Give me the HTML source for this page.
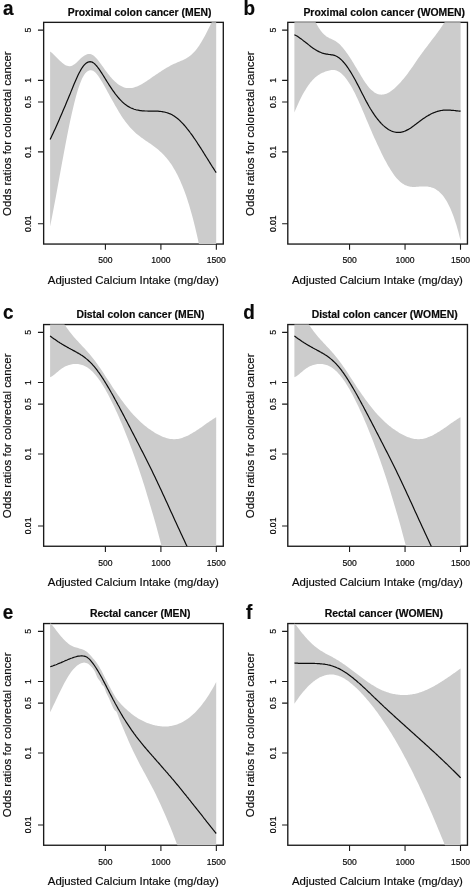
<!DOCTYPE html>
<html><head><meta charset="utf-8"><title>Calcium intake and colorectal cancer</title>
<style>
html,body{margin:0;padding:0;background:#fff;}
body{width:472px;height:890px;overflow:hidden;}
svg{display:block;will-change:transform;}
text{font-family:"Liberation Sans",sans-serif;fill:#0a0a0a;stroke:#0a0a0a;stroke-width:0.18px;}
.tk{font-size:8.6px;}
.lab{font-size:11.4px;}
.ylab{font-size:11.45px;}
.ttl{font-size:10.4px;font-weight:bold;}
.let{font-size:19.5px;font-weight:bold;}
</style></head>
<body>
<svg width="472" height="890" viewBox="0 0 472 890">
<rect x="0" y="0" width="472" height="890" fill="#fff"/>
<clipPath id="ca"><rect x="43.65" y="22.35" width="179.65" height="221.70"/></clipPath>
<rect x="43.65" y="22.35" width="179.65" height="221.70" fill="none" stroke="#1a1a1a" stroke-width="1.35"/>
<path d="M50.1 51.5 L51.1 52.3 L52.1 53.1 L53.1 54.0 L54.1 54.9 L55.1 55.9 L56.1 56.9 L57.1 57.9 L58.1 59.0 L59.1 59.9 L60.1 60.9 L61.1 61.8 L62.1 62.7 L63.1 63.5 L64.1 64.2 L65.1 64.9 L66.1 65.4 L67.1 65.8 L68.1 66.1 L69.1 66.2 L70.1 66.2 L71.1 66.0 L72.1 65.7 L73.1 65.1 L74.1 64.5 L75.1 63.7 L76.1 62.9 L77.1 62.0 L78.1 61.0 L79.1 60.0 L80.1 59.1 L81.1 58.1 L82.1 57.3 L83.1 56.5 L84.1 55.8 L85.1 55.2 L86.1 54.7 L87.1 54.3 L88.1 54.1 L89.1 54.0 L90.1 54.0 L91.1 54.3 L92.1 54.7 L93.1 55.2 L94.1 56.0 L95.1 56.9 L96.1 57.9 L97.1 59.0 L98.1 60.2 L99.1 61.5 L100.1 62.9 L101.1 64.3 L102.1 65.7 L103.1 67.1 L104.1 68.5 L105.1 69.9 L106.1 71.3 L107.1 72.6 L108.1 73.9 L109.1 75.1 L110.1 76.4 L111.1 77.5 L112.1 78.7 L113.1 79.7 L114.1 80.8 L115.1 81.7 L116.1 82.6 L117.1 83.4 L118.1 84.2 L119.1 84.9 L120.1 85.6 L121.1 86.1 L122.1 86.6 L123.1 87.1 L124.1 87.4 L125.1 87.7 L126.1 87.9 L127.1 88.0 L128.1 88.1 L129.1 88.1 L130.1 88.1 L131.1 88.0 L132.1 87.9 L133.1 87.7 L134.1 87.4 L135.1 87.1 L136.1 86.8 L137.1 86.4 L138.1 85.9 L139.1 85.5 L140.1 85.0 L141.1 84.5 L142.1 83.9 L143.1 83.3 L144.1 82.7 L145.1 82.1 L146.1 81.5 L147.1 80.8 L148.1 80.1 L149.1 79.4 L150.1 78.7 L151.1 78.0 L152.1 77.3 L153.1 76.6 L154.1 75.9 L155.1 75.2 L156.1 74.5 L157.1 73.9 L158.1 73.2 L159.1 72.5 L160.1 71.9 L161.1 71.2 L162.1 70.6 L163.1 69.9 L164.1 69.3 L165.1 68.7 L166.1 68.1 L167.1 67.5 L168.1 66.9 L169.1 66.4 L170.1 65.8 L171.1 65.3 L172.1 64.8 L173.1 64.3 L174.1 63.8 L175.1 63.4 L176.1 62.9 L177.1 62.5 L178.1 62.1 L179.1 61.7 L180.1 61.3 L181.1 60.8 L182.1 60.4 L183.1 59.9 L184.1 59.5 L185.1 59.0 L186.1 58.4 L187.1 57.8 L188.1 57.2 L189.1 56.5 L190.1 55.8 L191.1 55.0 L192.1 54.1 L193.1 53.1 L194.1 52.1 L195.1 51.0 L196.1 49.8 L197.1 48.5 L198.1 47.1 L199.1 45.7 L200.1 44.1 L201.1 42.5 L202.1 40.8 L203.1 39.1 L204.1 37.2 L205.1 35.4 L206.1 33.5 L207.1 31.5 L208.1 29.5 L209.1 27.5 L210.1 25.5 L211.1 23.4 L212.1 21.3 L213.1 19.2 L214.1 17.2 L215.1 15.1 L216.2 14.4 L216.2 252.1 L215.1 252.1 L214.1 252.1 L213.1 252.1 L212.1 252.1 L211.1 252.1 L210.1 252.1 L209.1 252.1 L208.1 252.1 L207.1 252.1 L206.1 252.1 L205.1 252.1 L204.1 252.1 L203.1 252.1 L202.1 252.1 L201.1 252.1 L200.1 249.7 L199.1 245.0 L198.1 240.3 L197.1 235.8 L196.1 231.4 L195.1 227.2 L194.1 223.2 L193.1 219.2 L192.1 215.5 L191.1 211.9 L190.1 208.4 L189.1 205.1 L188.1 201.9 L187.1 198.8 L186.1 195.8 L185.1 193.0 L184.1 190.3 L183.1 187.7 L182.1 185.2 L181.1 182.9 L180.1 180.6 L179.1 178.4 L178.1 176.3 L177.1 174.3 L176.1 172.4 L175.1 170.6 L174.1 168.9 L173.1 167.2 L172.1 165.6 L171.1 164.1 L170.1 162.7 L169.1 161.3 L168.1 160.0 L167.1 158.7 L166.1 157.5 L165.1 156.4 L164.1 155.3 L163.1 154.2 L162.1 153.2 L161.1 152.3 L160.1 151.4 L159.1 150.5 L158.1 149.6 L157.1 148.8 L156.1 148.0 L155.1 147.2 L154.1 146.5 L153.1 145.7 L152.1 145.0 L151.1 144.3 L150.1 143.6 L149.1 143.0 L148.1 142.3 L147.1 141.6 L146.1 140.9 L145.1 140.2 L144.1 139.5 L143.1 138.8 L142.1 138.1 L141.1 137.4 L140.1 136.6 L139.1 135.8 L138.1 135.0 L137.1 134.2 L136.1 133.4 L135.1 132.5 L134.1 131.5 L133.1 130.6 L132.1 129.5 L131.1 128.5 L130.1 127.4 L129.1 126.2 L128.1 125.0 L127.1 123.8 L126.1 122.5 L125.1 121.2 L124.1 119.8 L123.1 118.4 L122.1 116.9 L121.1 115.4 L120.1 113.8 L119.1 112.2 L118.1 110.5 L117.1 108.8 L116.1 107.1 L115.1 105.4 L114.1 103.6 L113.1 101.8 L112.1 100.0 L111.1 98.2 L110.1 96.4 L109.1 94.6 L108.1 92.8 L107.1 90.9 L106.1 89.1 L105.1 87.3 L104.1 85.6 L103.1 83.8 L102.1 82.1 L101.1 80.4 L100.1 78.8 L99.1 77.3 L98.1 75.8 L97.1 74.5 L96.1 73.3 L95.1 72.3 L94.1 71.5 L93.1 70.8 L92.1 70.4 L91.1 70.2 L90.1 70.2 L89.1 70.4 L88.1 70.9 L87.1 71.6 L86.1 72.5 L85.1 73.6 L84.1 75.0 L83.1 76.7 L82.1 78.6 L81.1 80.9 L80.1 83.4 L79.1 86.2 L78.1 89.2 L77.1 92.5 L76.1 96.0 L75.1 99.8 L74.1 103.7 L73.1 107.9 L72.1 112.2 L71.1 116.7 L70.1 121.3 L69.1 126.1 L68.1 131.1 L67.1 136.1 L66.1 141.3 L65.1 146.5 L64.1 151.8 L63.1 157.2 L62.1 162.6 L61.1 168.1 L60.1 173.5 L59.1 179.0 L58.1 184.5 L57.1 189.9 L56.1 195.4 L55.1 200.7 L54.1 206.0 L53.1 211.3 L52.1 216.4 L51.1 221.4 L50.1 226.4 Z" fill="#cccccc" clip-path="url(#ca)"/>
<path d="M50.1 139.5 L51.1 137.4 L52.1 135.3 L53.1 133.2 L54.1 131.0 L55.1 128.9 L56.1 126.7 L57.1 124.4 L58.1 122.2 L59.1 119.9 L60.1 117.6 L61.1 115.3 L62.1 113.0 L63.1 110.6 L64.1 108.3 L65.1 105.9 L66.1 103.5 L67.1 101.1 L68.1 98.7 L69.1 96.3 L70.1 93.9 L71.1 91.4 L72.1 89.0 L73.1 86.5 L74.1 84.1 L75.1 81.8 L76.1 79.5 L77.1 77.2 L78.1 75.1 L79.1 73.1 L80.1 71.2 L81.1 69.4 L82.1 67.8 L83.1 66.4 L84.1 65.2 L85.1 64.1 L86.1 63.2 L87.1 62.6 L88.1 62.1 L89.1 61.8 L90.1 61.7 L91.1 61.8 L92.1 62.1 L93.1 62.6 L94.1 63.4 L95.1 64.3 L96.1 65.3 L97.1 66.5 L98.1 67.8 L99.1 69.2 L100.1 70.6 L101.1 72.2 L102.1 73.7 L103.1 75.3 L104.1 76.9 L105.1 78.5 L106.1 80.1 L107.1 81.7 L108.1 83.3 L109.1 84.9 L110.1 86.4 L111.1 87.9 L112.1 89.4 L113.1 90.8 L114.1 92.2 L115.1 93.6 L116.1 94.9 L117.1 96.1 L118.1 97.3 L119.1 98.5 L120.1 99.6 L121.1 100.7 L122.1 101.7 L123.1 102.6 L124.1 103.5 L125.1 104.3 L126.1 105.0 L127.1 105.7 L128.1 106.4 L129.1 106.9 L130.1 107.5 L131.1 108.0 L132.1 108.4 L133.1 108.8 L134.1 109.2 L135.1 109.5 L136.1 109.8 L137.1 110.0 L138.1 110.2 L139.1 110.4 L140.1 110.6 L141.1 110.7 L142.1 110.8 L143.1 110.9 L144.1 110.9 L145.1 111.0 L146.1 111.0 L147.1 111.0 L148.1 111.1 L149.1 111.1 L150.1 111.1 L151.1 111.1 L152.1 111.1 L153.1 111.1 L154.1 111.1 L155.1 111.1 L156.1 111.1 L157.1 111.2 L158.1 111.2 L159.1 111.3 L160.1 111.4 L161.1 111.5 L162.1 111.6 L163.1 111.8 L164.1 112.0 L165.1 112.2 L166.1 112.5 L167.1 112.8 L168.1 113.1 L169.1 113.5 L170.1 113.9 L171.1 114.3 L172.1 114.8 L173.1 115.4 L174.1 116.0 L175.1 116.7 L176.1 117.4 L177.1 118.2 L178.1 119.0 L179.1 119.9 L180.1 120.8 L181.1 121.8 L182.1 122.8 L183.1 123.9 L184.1 125.0 L185.1 126.1 L186.1 127.3 L187.1 128.6 L188.1 129.8 L189.1 131.1 L190.1 132.5 L191.1 133.8 L192.1 135.2 L193.1 136.6 L194.1 138.1 L195.1 139.5 L196.1 141.0 L197.1 142.5 L198.1 144.1 L199.1 145.6 L200.1 147.2 L201.1 148.7 L202.1 150.3 L203.1 151.9 L204.1 153.5 L205.1 155.1 L206.1 156.7 L207.1 158.3 L208.1 159.9 L209.1 161.5 L210.1 163.1 L211.1 164.7 L212.1 166.3 L213.1 167.8 L214.1 169.4 L215.1 171.0 L216.2 172.6" fill="none" stroke="#0c0c0c" stroke-width="1.2" stroke-linejoin="round" clip-path="url(#ca)"/>
<path d="M105.40 244.05 v5.7 M160.90 244.05 v5.7 M216.35 244.05 v5.7 M43.65 30.15 h-5.7 M43.65 80.35 h-5.7 M43.65 101.95 h-5.7 M43.65 151.85 h-5.7 M43.65 223.75 h-5.7" fill="none" stroke="#1a1a1a" stroke-width="1.1"/>
<text class="tk" x="105.40" y="263.35" text-anchor="middle">500</text>
<text class="tk" x="160.90" y="263.35" text-anchor="middle">1000</text>
<text class="tk" x="216.35" y="263.35" text-anchor="middle">1500</text>
<text class="tk" transform="translate(31.45 30.15) rotate(-90)" text-anchor="middle">5</text>
<text class="tk" transform="translate(31.45 80.35) rotate(-90)" text-anchor="middle">1</text>
<text class="tk" transform="translate(31.45 101.95) rotate(-90)" text-anchor="middle">0.5</text>
<text class="tk" transform="translate(31.45 151.85) rotate(-90)" text-anchor="middle">0.1</text>
<text class="tk" transform="translate(31.45 223.75) rotate(-90)" text-anchor="middle">0.01</text>
<text class="lab" x="133.28" y="284.00" text-anchor="middle">Adjusted Calcium Intake (mg/day)</text>
<text class="lab ylab" transform="translate(10.90 133.65) rotate(-90)" text-anchor="middle">Odds ratios for colorectal cancer</text>
<text class="ttl" x="139.65" y="16.15" text-anchor="middle">Proximal colon cancer (MEN)</text>
<text class="let" transform="translate(2.90 15.20) scale(0.97 1.02)">a</text>
<clipPath id="cb"><rect x="287.80" y="22.35" width="179.65" height="221.70"/></clipPath>
<rect x="287.80" y="22.35" width="179.65" height="221.70" fill="none" stroke="#1a1a1a" stroke-width="1.35"/>
<path d="M294.4 14.4 L295.4 14.4 L296.4 14.4 L297.4 14.4 L298.4 14.4 L299.4 14.4 L300.4 14.4 L301.4 14.4 L302.4 14.4 L303.4 14.4 L304.4 14.4 L305.4 14.4 L306.4 14.4 L307.4 14.4 L308.4 14.4 L309.4 14.4 L310.4 14.4 L311.4 14.4 L312.4 14.9 L313.4 17.3 L314.4 19.5 L315.4 21.7 L316.4 23.7 L317.4 25.5 L318.4 27.2 L319.4 28.8 L320.4 30.2 L321.4 31.5 L322.4 32.7 L323.4 33.8 L324.4 34.8 L325.4 35.6 L326.4 36.4 L327.4 37.0 L328.4 37.6 L329.4 38.2 L330.4 38.6 L331.4 39.1 L332.4 39.5 L333.4 40.0 L334.4 40.5 L335.4 41.1 L336.4 41.7 L337.4 42.4 L338.4 43.2 L339.4 44.1 L340.4 45.1 L341.4 46.2 L342.4 47.3 L343.4 48.5 L344.4 49.7 L345.4 51.0 L346.4 52.4 L347.4 53.8 L348.4 55.2 L349.4 56.7 L350.4 58.3 L351.4 59.8 L352.4 61.4 L353.4 63.1 L354.4 64.7 L355.4 66.4 L356.4 68.1 L357.4 69.7 L358.4 71.4 L359.4 73.1 L360.4 74.8 L361.4 76.5 L362.4 78.1 L363.4 79.7 L364.4 81.2 L365.4 82.7 L366.4 84.1 L367.4 85.4 L368.4 86.7 L369.4 87.9 L370.4 88.9 L371.4 89.9 L372.4 90.8 L373.4 91.6 L374.4 92.4 L375.4 93.0 L376.4 93.5 L377.4 93.9 L378.4 94.3 L379.4 94.5 L380.4 94.6 L381.4 94.7 L382.4 94.6 L383.4 94.5 L384.4 94.3 L385.4 94.0 L386.4 93.7 L387.4 93.2 L388.4 92.7 L389.4 92.2 L390.4 91.5 L391.4 90.8 L392.4 90.1 L393.4 89.3 L394.4 88.4 L395.4 87.5 L396.4 86.6 L397.4 85.6 L398.4 84.6 L399.4 83.5 L400.4 82.4 L401.4 81.3 L402.4 80.1 L403.4 79.0 L404.4 77.7 L405.4 76.5 L406.4 75.2 L407.4 73.9 L408.4 72.5 L409.4 71.1 L410.4 69.7 L411.4 68.3 L412.4 66.9 L413.4 65.4 L414.4 63.9 L415.4 62.5 L416.4 61.0 L417.4 59.6 L418.4 58.1 L419.4 56.7 L420.4 55.3 L421.4 53.9 L422.4 52.5 L423.4 51.2 L424.4 49.8 L425.4 48.5 L426.4 47.2 L427.4 45.9 L428.4 44.6 L429.4 43.3 L430.4 41.9 L431.4 40.6 L432.4 39.3 L433.4 38.0 L434.4 36.7 L435.4 35.4 L436.4 34.0 L437.4 32.7 L438.4 31.3 L439.4 29.9 L440.4 28.5 L441.4 27.1 L442.4 25.6 L443.4 24.1 L444.4 22.6 L445.4 21.0 L446.4 19.3 L447.4 17.5 L448.4 15.7 L449.4 14.4 L450.4 14.4 L451.4 14.4 L452.4 14.4 L453.4 14.4 L454.4 14.4 L455.4 14.4 L456.4 14.4 L457.4 14.4 L458.4 14.4 L459.4 14.4 L460.6 14.4 L460.6 240.7 L459.4 235.9 L458.4 232.1 L457.4 228.5 L456.4 225.1 L455.4 221.9 L454.4 218.9 L453.4 216.1 L452.4 213.4 L451.4 210.9 L450.4 208.6 L449.4 206.4 L448.4 204.4 L447.4 202.5 L446.4 200.8 L445.4 199.2 L444.4 197.7 L443.4 196.3 L442.4 195.1 L441.4 194.0 L440.4 192.9 L439.4 192.0 L438.4 191.1 L437.4 190.4 L436.4 189.7 L435.4 189.1 L434.4 188.6 L433.4 188.1 L432.4 187.7 L431.4 187.4 L430.4 187.1 L429.4 186.9 L428.4 186.7 L427.4 186.6 L426.4 186.5 L425.4 186.4 L424.4 186.4 L423.4 186.4 L422.4 186.4 L421.4 186.5 L420.4 186.5 L419.4 186.6 L418.4 186.7 L417.4 186.8 L416.4 186.8 L415.4 186.9 L414.4 186.9 L413.4 186.9 L412.4 186.9 L411.4 186.8 L410.4 186.7 L409.4 186.5 L408.4 186.3 L407.4 186.0 L406.4 185.6 L405.4 185.2 L404.4 184.7 L403.4 184.1 L402.4 183.4 L401.4 182.7 L400.4 181.9 L399.4 181.0 L398.4 180.1 L397.4 179.0 L396.4 177.9 L395.4 176.7 L394.4 175.4 L393.4 174.0 L392.4 172.6 L391.4 171.0 L390.4 169.5 L389.4 167.8 L388.4 166.2 L387.4 164.4 L386.4 162.6 L385.4 160.7 L384.4 158.9 L383.4 156.9 L382.4 154.9 L381.4 152.9 L380.4 150.8 L379.4 148.7 L378.4 146.6 L377.4 144.5 L376.4 142.3 L375.4 140.1 L374.4 137.9 L373.4 135.7 L372.4 133.4 L371.4 131.1 L370.4 128.8 L369.4 126.5 L368.4 124.1 L367.4 121.8 L366.4 119.4 L365.4 117.0 L364.4 114.6 L363.4 112.2 L362.4 109.9 L361.4 107.5 L360.4 105.2 L359.4 102.9 L358.4 100.7 L357.4 98.5 L356.4 96.4 L355.4 94.3 L354.4 92.3 L353.4 90.4 L352.4 88.5 L351.4 86.8 L350.4 85.1 L349.4 83.4 L348.4 81.9 L347.4 80.4 L346.4 79.0 L345.4 77.8 L344.4 76.6 L343.4 75.5 L342.4 74.4 L341.4 73.5 L340.4 72.7 L339.4 72.0 L338.4 71.4 L337.4 70.9 L336.4 70.5 L335.4 70.2 L334.4 70.1 L333.4 70.0 L332.4 70.0 L331.4 70.1 L330.4 70.2 L329.4 70.4 L328.4 70.7 L327.4 71.0 L326.4 71.3 L325.4 71.6 L324.4 72.0 L323.4 72.4 L322.4 72.8 L321.4 73.3 L320.4 73.8 L319.4 74.4 L318.4 75.0 L317.4 75.7 L316.4 76.5 L315.4 77.3 L314.4 78.2 L313.4 79.2 L312.4 80.3 L311.4 81.4 L310.4 82.6 L309.4 83.9 L308.4 85.3 L307.4 86.7 L306.4 88.3 L305.4 89.9 L304.4 91.5 L303.4 93.3 L302.4 95.1 L301.4 97.0 L300.4 99.0 L299.4 101.1 L298.4 103.2 L297.4 105.4 L296.4 107.7 L295.4 110.1 L294.4 112.5 Z" fill="#cccccc" clip-path="url(#cb)"/>
<path d="M294.4 34.7 L295.4 35.2 L296.4 35.7 L297.4 36.3 L298.4 37.0 L299.4 37.7 L300.4 38.4 L301.4 39.1 L302.4 39.9 L303.4 40.7 L304.4 41.4 L305.4 42.2 L306.4 43.0 L307.4 43.8 L308.4 44.6 L309.4 45.4 L310.4 46.2 L311.4 47.0 L312.4 47.7 L313.4 48.4 L314.4 49.1 L315.4 49.7 L316.4 50.3 L317.4 50.9 L318.4 51.4 L319.4 51.9 L320.4 52.3 L321.4 52.7 L322.4 53.1 L323.4 53.4 L324.4 53.7 L325.4 53.9 L326.4 54.1 L327.4 54.2 L328.4 54.4 L329.4 54.5 L330.4 54.6 L331.4 54.8 L332.4 54.9 L333.4 55.1 L334.4 55.4 L335.4 55.8 L336.4 56.2 L337.4 56.7 L338.4 57.4 L339.4 58.1 L340.4 59.0 L341.4 59.9 L342.4 60.9 L343.4 62.0 L344.4 63.1 L345.4 64.4 L346.4 65.7 L347.4 67.1 L348.4 68.5 L349.4 70.1 L350.4 71.6 L351.4 73.3 L352.4 75.0 L353.4 76.7 L354.4 78.5 L355.4 80.3 L356.4 82.2 L357.4 84.1 L358.4 86.0 L359.4 87.9 L360.4 89.9 L361.4 91.9 L362.4 93.9 L363.4 95.8 L364.4 97.8 L365.4 99.7 L366.4 101.6 L367.4 103.4 L368.4 105.2 L369.4 107.0 L370.4 108.7 L371.4 110.3 L372.4 111.9 L373.4 113.4 L374.4 114.9 L375.4 116.3 L376.4 117.7 L377.4 119.0 L378.4 120.2 L379.4 121.4 L380.4 122.5 L381.4 123.6 L382.4 124.6 L383.4 125.6 L384.4 126.4 L385.4 127.3 L386.4 128.0 L387.4 128.7 L388.4 129.4 L389.4 130.0 L390.4 130.5 L391.4 131.0 L392.4 131.4 L393.4 131.7 L394.4 132.0 L395.4 132.2 L396.4 132.3 L397.4 132.4 L398.4 132.4 L399.4 132.4 L400.4 132.3 L401.4 132.1 L402.4 131.9 L403.4 131.6 L404.4 131.3 L405.4 130.9 L406.4 130.4 L407.4 129.9 L408.4 129.4 L409.4 128.8 L410.4 128.2 L411.4 127.5 L412.4 126.8 L413.4 126.1 L414.4 125.3 L415.4 124.6 L416.4 123.8 L417.4 123.0 L418.4 122.2 L419.4 121.5 L420.4 120.7 L421.4 120.0 L422.4 119.3 L423.4 118.6 L424.4 117.9 L425.4 117.3 L426.4 116.6 L427.4 116.0 L428.4 115.4 L429.4 114.9 L430.4 114.3 L431.4 113.8 L432.4 113.3 L433.4 112.9 L434.4 112.5 L435.4 112.1 L436.4 111.7 L437.4 111.4 L438.4 111.1 L439.4 110.9 L440.4 110.6 L441.4 110.5 L442.4 110.3 L443.4 110.2 L444.4 110.1 L445.4 110.1 L446.4 110.1 L447.4 110.1 L448.4 110.1 L449.4 110.1 L450.4 110.2 L451.4 110.3 L452.4 110.3 L453.4 110.4 L454.4 110.5 L455.4 110.6 L456.4 110.8 L457.4 110.9 L458.4 111.0 L459.4 111.1 L460.6 111.2" fill="none" stroke="#0c0c0c" stroke-width="1.2" stroke-linejoin="round" clip-path="url(#cb)"/>
<path d="M349.55 244.05 v5.7 M405.05 244.05 v5.7 M460.50 244.05 v5.7 M287.80 30.15 h-5.7 M287.80 80.35 h-5.7 M287.80 101.95 h-5.7 M287.80 151.85 h-5.7 M287.80 223.75 h-5.7" fill="none" stroke="#1a1a1a" stroke-width="1.1"/>
<text class="tk" x="349.55" y="263.35" text-anchor="middle">500</text>
<text class="tk" x="405.05" y="263.35" text-anchor="middle">1000</text>
<text class="tk" x="460.50" y="263.35" text-anchor="middle">1500</text>
<text class="tk" transform="translate(275.60 30.15) rotate(-90)" text-anchor="middle">5</text>
<text class="tk" transform="translate(275.60 80.35) rotate(-90)" text-anchor="middle">1</text>
<text class="tk" transform="translate(275.60 101.95) rotate(-90)" text-anchor="middle">0.5</text>
<text class="tk" transform="translate(275.60 151.85) rotate(-90)" text-anchor="middle">0.1</text>
<text class="tk" transform="translate(275.60 223.75) rotate(-90)" text-anchor="middle">0.01</text>
<text class="lab" x="377.43" y="284.00" text-anchor="middle">Adjusted Calcium Intake (mg/day)</text>
<text class="lab ylab" transform="translate(254.20 133.65) rotate(-90)" text-anchor="middle">Odds ratios for colorectal cancer</text>
<text class="ttl" x="384.25" y="16.15" text-anchor="middle">Proximal colon cancer (WOMEN)</text>
<text class="let" transform="translate(243.60 15.20) scale(0.97 1.02)">b</text>
<clipPath id="cc"><rect x="43.65" y="324.55" width="179.65" height="221.70"/></clipPath>
<rect x="43.65" y="324.55" width="179.65" height="221.70" fill="none" stroke="#1a1a1a" stroke-width="1.35"/>
<path d="M50.1 316.6 L51.1 316.6 L52.1 316.6 L53.1 316.6 L54.1 316.6 L55.1 316.6 L56.1 316.6 L57.1 316.6 L58.1 316.6 L59.1 316.6 L60.1 316.6 L61.1 318.2 L62.1 320.1 L63.1 321.9 L64.1 323.6 L65.1 325.2 L66.1 326.7 L67.1 328.2 L68.1 329.6 L69.1 331.0 L70.1 332.3 L71.1 333.6 L72.1 334.8 L73.1 336.0 L74.1 337.2 L75.1 338.3 L76.1 339.4 L77.1 340.5 L78.1 341.6 L79.1 342.7 L80.1 343.8 L81.1 344.8 L82.1 345.9 L83.1 346.9 L84.1 348.0 L85.1 349.1 L86.1 350.2 L87.1 351.3 L88.1 352.4 L89.1 353.6 L90.1 354.7 L91.1 355.9 L92.1 357.2 L93.1 358.4 L94.1 359.7 L95.1 361.1 L96.1 362.4 L97.1 363.8 L98.1 365.2 L99.1 366.7 L100.1 368.1 L101.1 369.6 L102.1 371.1 L103.1 372.6 L104.1 374.1 L105.1 375.7 L106.1 377.2 L107.1 378.7 L108.1 380.2 L109.1 381.8 L110.1 383.3 L111.1 384.8 L112.1 386.4 L113.1 387.9 L114.1 389.4 L115.1 390.8 L116.1 392.3 L117.1 393.8 L118.1 395.2 L119.1 396.6 L120.1 398.0 L121.1 399.4 L122.1 400.8 L123.1 402.1 L124.1 403.5 L125.1 404.8 L126.1 406.1 L127.1 407.3 L128.1 408.6 L129.1 409.8 L130.1 411.0 L131.1 412.2 L132.1 413.3 L133.1 414.4 L134.1 415.5 L135.1 416.6 L136.1 417.6 L137.1 418.6 L138.1 419.6 L139.1 420.6 L140.1 421.5 L141.1 422.4 L142.1 423.3 L143.1 424.2 L144.1 425.0 L145.1 425.9 L146.1 426.6 L147.1 427.4 L148.1 428.2 L149.1 428.9 L150.1 429.6 L151.1 430.3 L152.1 431.0 L153.1 431.6 L154.1 432.3 L155.1 432.9 L156.1 433.5 L157.1 434.0 L158.1 434.6 L159.1 435.1 L160.1 435.6 L161.1 436.1 L162.1 436.5 L163.1 436.9 L164.1 437.3 L165.1 437.6 L166.1 438.0 L167.1 438.2 L168.1 438.5 L169.1 438.7 L170.1 438.9 L171.1 439.0 L172.1 439.1 L173.1 439.2 L174.1 439.2 L175.1 439.2 L176.1 439.1 L177.1 439.0 L178.1 438.9 L179.1 438.7 L180.1 438.4 L181.1 438.2 L182.1 437.9 L183.1 437.5 L184.1 437.1 L185.1 436.7 L186.1 436.3 L187.1 435.9 L188.1 435.4 L189.1 434.9 L190.1 434.3 L191.1 433.8 L192.1 433.2 L193.1 432.6 L194.1 432.0 L195.1 431.4 L196.1 430.7 L197.1 430.1 L198.1 429.4 L199.1 428.7 L200.1 428.0 L201.1 427.4 L202.1 426.7 L203.1 426.0 L204.1 425.3 L205.1 424.5 L206.1 423.8 L207.1 423.1 L208.1 422.4 L209.1 421.8 L210.1 421.1 L211.1 420.4 L212.1 419.7 L213.1 419.1 L214.1 418.4 L215.1 417.8 L216.2 417.2 L216.2 554.2 L215.1 554.2 L214.1 554.2 L213.1 554.2 L212.1 554.2 L211.1 554.2 L210.1 554.2 L209.1 554.2 L208.1 554.2 L207.1 554.2 L206.1 554.2 L205.1 554.2 L204.1 554.2 L203.1 554.2 L202.1 554.2 L201.1 554.2 L200.1 554.2 L199.1 554.2 L198.1 554.2 L197.1 554.2 L196.1 554.2 L195.1 554.2 L194.1 554.2 L193.1 554.2 L192.1 554.2 L191.1 554.2 L190.1 554.2 L189.1 554.2 L188.1 554.2 L187.1 554.2 L186.1 554.2 L185.1 554.2 L184.1 554.2 L183.1 554.2 L182.1 554.2 L181.1 554.2 L180.1 554.2 L179.1 554.2 L178.1 554.2 L177.1 554.2 L176.1 554.2 L175.1 554.2 L174.1 554.2 L173.1 554.2 L172.1 554.2 L171.1 554.2 L170.1 554.2 L169.1 554.2 L168.1 554.2 L167.1 554.2 L166.1 554.2 L165.1 554.2 L164.1 554.2 L163.1 552.0 L162.1 548.1 L161.1 544.3 L160.1 540.4 L159.1 536.7 L158.1 532.9 L157.1 529.3 L156.1 525.6 L155.1 522.1 L154.1 518.5 L153.1 515.1 L152.1 511.7 L151.1 508.3 L150.1 504.9 L149.1 501.5 L148.1 498.2 L147.1 494.9 L146.1 491.6 L145.1 488.3 L144.1 485.1 L143.1 481.9 L142.1 478.8 L141.1 475.7 L140.1 472.7 L139.1 469.8 L138.1 466.8 L137.1 463.9 L136.1 461.1 L135.1 458.3 L134.1 455.5 L133.1 452.8 L132.1 450.1 L131.1 447.4 L130.1 444.7 L129.1 442.1 L128.1 439.5 L127.1 437.0 L126.1 434.4 L125.1 431.9 L124.1 429.5 L123.1 427.0 L122.1 424.6 L121.1 422.2 L120.1 419.9 L119.1 417.6 L118.1 415.3 L117.1 413.1 L116.1 410.9 L115.1 408.7 L114.1 406.6 L113.1 404.5 L112.1 402.4 L111.1 400.4 L110.1 398.4 L109.1 396.5 L108.1 394.6 L107.1 392.7 L106.1 390.9 L105.1 389.1 L104.1 387.4 L103.1 385.8 L102.1 384.2 L101.1 382.6 L100.1 381.1 L99.1 379.7 L98.1 378.3 L97.1 377.0 L96.1 375.7 L95.1 374.5 L94.1 373.4 L93.1 372.3 L92.1 371.3 L91.1 370.4 L90.1 369.5 L89.1 368.7 L88.1 368.0 L87.1 367.3 L86.1 366.7 L85.1 366.2 L84.1 365.7 L83.1 365.3 L82.1 365.0 L81.1 364.7 L80.1 364.4 L79.1 364.2 L78.1 364.1 L77.1 364.0 L76.1 364.0 L75.1 364.0 L74.1 364.0 L73.1 364.1 L72.1 364.3 L71.1 364.5 L70.1 364.7 L69.1 365.0 L68.1 365.3 L67.1 365.7 L66.1 366.1 L65.1 366.6 L64.1 367.1 L63.1 367.7 L62.1 368.3 L61.1 369.0 L60.1 369.8 L59.1 370.6 L58.1 371.4 L57.1 372.2 L56.1 373.1 L55.1 373.9 L54.1 374.7 L53.1 375.5 L52.1 376.2 L51.1 376.8 L50.1 377.3 Z" fill="#cccccc" clip-path="url(#cc)"/>
<path d="M50.1 335.9 L51.1 336.7 L52.1 337.5 L53.1 338.2 L54.1 338.9 L55.1 339.6 L56.1 340.3 L57.1 341.0 L58.1 341.7 L59.1 342.3 L60.1 343.0 L61.1 343.6 L62.1 344.2 L63.1 344.8 L64.1 345.4 L65.1 345.9 L66.1 346.5 L67.1 347.1 L68.1 347.6 L69.1 348.2 L70.1 348.7 L71.1 349.3 L72.1 349.8 L73.1 350.4 L74.1 350.9 L75.1 351.4 L76.1 352.0 L77.1 352.6 L78.1 353.1 L79.1 353.7 L80.1 354.3 L81.1 355.0 L82.1 355.6 L83.1 356.3 L84.1 357.0 L85.1 357.8 L86.1 358.6 L87.1 359.4 L88.1 360.3 L89.1 361.2 L90.1 362.1 L91.1 363.1 L92.1 364.2 L93.1 365.3 L94.1 366.4 L95.1 367.6 L96.1 368.9 L97.1 370.2 L98.1 371.6 L99.1 372.9 L100.1 374.4 L101.1 375.8 L102.1 377.4 L103.1 378.9 L104.1 380.5 L105.1 382.1 L106.1 383.7 L107.1 385.4 L108.1 387.1 L109.1 388.8 L110.1 390.5 L111.1 392.3 L112.1 394.0 L113.1 395.8 L114.1 397.6 L115.1 399.5 L116.1 401.3 L117.1 403.1 L118.1 405.0 L119.1 406.8 L120.1 408.7 L121.1 410.6 L122.1 412.5 L123.1 414.4 L124.1 416.3 L125.1 418.2 L126.1 420.1 L127.1 422.0 L128.1 424.0 L129.1 425.9 L130.1 427.8 L131.1 429.8 L132.1 431.7 L133.1 433.6 L134.1 435.6 L135.1 437.5 L136.1 439.4 L137.1 441.4 L138.1 443.3 L139.1 445.3 L140.1 447.2 L141.1 449.2 L142.1 451.1 L143.1 453.1 L144.1 455.0 L145.1 457.0 L146.1 459.0 L147.1 461.0 L148.1 463.0 L149.1 465.0 L150.1 467.0 L151.1 469.1 L152.1 471.1 L153.1 473.2 L154.1 475.2 L155.1 477.3 L156.1 479.4 L157.1 481.5 L158.1 483.7 L159.1 485.8 L160.1 487.9 L161.1 490.1 L162.1 492.3 L163.1 494.4 L164.1 496.6 L165.1 498.8 L166.1 501.0 L167.1 503.1 L168.1 505.3 L169.1 507.5 L170.1 509.7 L171.1 511.9 L172.1 514.1 L173.1 516.3 L174.1 518.5 L175.1 520.7 L176.1 522.8 L177.1 525.0 L178.1 527.2 L179.1 529.3 L180.1 531.5 L181.1 533.7 L182.1 535.8 L183.1 538.0 L184.1 540.1 L185.1 542.3 L186.1 544.4 L187.1 546.5 L188.1 548.7 L189.1 550.8 L190.1 552.9 L191.1 554.2 L192.1 554.2 L193.1 554.2 L194.1 554.2 L195.1 554.2 L196.1 554.2 L197.1 554.2 L198.1 554.2 L199.1 554.2 L200.1 554.2 L201.1 554.2 L202.1 554.2 L203.1 554.2 L204.1 554.2 L205.1 554.2 L206.1 554.2 L207.1 554.2 L208.1 554.2 L209.1 554.2 L210.1 554.2 L211.1 554.2 L212.1 554.2 L213.1 554.2 L214.1 554.2 L215.1 554.2 L216.2 554.2" fill="none" stroke="#0c0c0c" stroke-width="1.2" stroke-linejoin="round" clip-path="url(#cc)"/>
<path d="M105.40 546.25 v5.7 M160.90 546.25 v5.7 M216.35 546.25 v5.7 M43.65 332.35 h-5.7 M43.65 382.55 h-5.7 M43.65 404.15 h-5.7 M43.65 454.05 h-5.7 M43.65 525.95 h-5.7" fill="none" stroke="#1a1a1a" stroke-width="1.1"/>
<text class="tk" x="105.40" y="565.55" text-anchor="middle">500</text>
<text class="tk" x="160.90" y="565.55" text-anchor="middle">1000</text>
<text class="tk" x="216.35" y="565.55" text-anchor="middle">1500</text>
<text class="tk" transform="translate(31.45 332.35) rotate(-90)" text-anchor="middle">5</text>
<text class="tk" transform="translate(31.45 382.55) rotate(-90)" text-anchor="middle">1</text>
<text class="tk" transform="translate(31.45 404.15) rotate(-90)" text-anchor="middle">0.5</text>
<text class="tk" transform="translate(31.45 454.05) rotate(-90)" text-anchor="middle">0.1</text>
<text class="tk" transform="translate(31.45 525.95) rotate(-90)" text-anchor="middle">0.01</text>
<text class="lab" x="133.28" y="586.20" text-anchor="middle">Adjusted Calcium Intake (mg/day)</text>
<text class="lab ylab" transform="translate(10.90 435.85) rotate(-90)" text-anchor="middle">Odds ratios for colorectal cancer</text>
<text class="ttl" x="140.50" y="318.35" text-anchor="middle">Distal colon cancer (MEN)</text>
<text class="let" transform="translate(3.00 319.20) scale(0.97 1.02)">c</text>
<clipPath id="cd"><rect x="287.80" y="324.55" width="179.65" height="221.70"/></clipPath>
<rect x="287.80" y="324.55" width="179.65" height="221.70" fill="none" stroke="#1a1a1a" stroke-width="1.35"/>
<path d="M294.4 316.6 L295.4 316.6 L296.4 316.6 L297.4 316.6 L298.4 316.6 L299.4 316.6 L300.4 316.6 L301.4 316.6 L302.4 316.6 L303.4 316.6 L304.4 316.6 L305.4 318.2 L306.4 320.1 L307.4 321.9 L308.4 323.6 L309.4 325.2 L310.4 326.7 L311.4 328.2 L312.4 329.6 L313.4 331.0 L314.4 332.3 L315.4 333.6 L316.4 334.8 L317.4 336.0 L318.4 337.2 L319.4 338.3 L320.4 339.4 L321.4 340.5 L322.4 341.6 L323.4 342.7 L324.4 343.8 L325.4 344.8 L326.4 345.9 L327.4 346.9 L328.4 348.0 L329.4 349.1 L330.4 350.2 L331.4 351.3 L332.4 352.4 L333.4 353.6 L334.4 354.7 L335.4 355.9 L336.4 357.2 L337.4 358.4 L338.4 359.7 L339.4 361.1 L340.4 362.4 L341.4 363.8 L342.4 365.2 L343.4 366.7 L344.4 368.1 L345.4 369.6 L346.4 371.1 L347.4 372.6 L348.4 374.1 L349.4 375.7 L350.4 377.2 L351.4 378.7 L352.4 380.2 L353.4 381.8 L354.4 383.3 L355.4 384.8 L356.4 386.4 L357.4 387.9 L358.4 389.4 L359.4 390.8 L360.4 392.3 L361.4 393.8 L362.4 395.2 L363.4 396.6 L364.4 398.0 L365.4 399.4 L366.4 400.8 L367.4 402.1 L368.4 403.5 L369.4 404.8 L370.4 406.1 L371.4 407.3 L372.4 408.6 L373.4 409.8 L374.4 411.0 L375.4 412.2 L376.4 413.3 L377.4 414.4 L378.4 415.5 L379.4 416.6 L380.4 417.6 L381.4 418.6 L382.4 419.6 L383.4 420.6 L384.4 421.5 L385.4 422.4 L386.4 423.3 L387.4 424.2 L388.4 425.0 L389.4 425.9 L390.4 426.6 L391.4 427.4 L392.4 428.2 L393.4 428.9 L394.4 429.6 L395.4 430.3 L396.4 431.0 L397.4 431.6 L398.4 432.3 L399.4 432.9 L400.4 433.5 L401.4 434.0 L402.4 434.6 L403.4 435.1 L404.4 435.6 L405.4 436.1 L406.4 436.5 L407.4 436.9 L408.4 437.3 L409.4 437.6 L410.4 438.0 L411.4 438.2 L412.4 438.5 L413.4 438.7 L414.4 438.9 L415.4 439.0 L416.4 439.1 L417.4 439.2 L418.4 439.2 L419.4 439.2 L420.4 439.1 L421.4 439.0 L422.4 438.9 L423.4 438.7 L424.4 438.4 L425.4 438.2 L426.4 437.9 L427.4 437.5 L428.4 437.1 L429.4 436.7 L430.4 436.3 L431.4 435.9 L432.4 435.4 L433.4 434.9 L434.4 434.3 L435.4 433.8 L436.4 433.2 L437.4 432.6 L438.4 432.0 L439.4 431.4 L440.4 430.7 L441.4 430.1 L442.4 429.4 L443.4 428.7 L444.4 428.0 L445.4 427.4 L446.4 426.7 L447.4 426.0 L448.4 425.3 L449.4 424.5 L450.4 423.8 L451.4 423.1 L452.4 422.4 L453.4 421.8 L454.4 421.1 L455.4 420.4 L456.4 419.7 L457.4 419.1 L458.4 418.4 L459.4 417.8 L460.5 417.2 L460.5 554.2 L459.4 554.2 L458.4 554.2 L457.4 554.2 L456.4 554.2 L455.4 554.2 L454.4 554.2 L453.4 554.2 L452.4 554.2 L451.4 554.2 L450.4 554.2 L449.4 554.2 L448.4 554.2 L447.4 554.2 L446.4 554.2 L445.4 554.2 L444.4 554.2 L443.4 554.2 L442.4 554.2 L441.4 554.2 L440.4 554.2 L439.4 554.2 L438.4 554.2 L437.4 554.2 L436.4 554.2 L435.4 554.2 L434.4 554.2 L433.4 554.2 L432.4 554.2 L431.4 554.2 L430.4 554.2 L429.4 554.2 L428.4 554.2 L427.4 554.2 L426.4 554.2 L425.4 554.2 L424.4 554.2 L423.4 554.2 L422.4 554.2 L421.4 554.2 L420.4 554.2 L419.4 554.2 L418.4 554.2 L417.4 554.2 L416.4 554.2 L415.4 554.2 L414.4 554.2 L413.4 554.2 L412.4 554.2 L411.4 554.2 L410.4 554.2 L409.4 554.2 L408.4 554.2 L407.4 552.0 L406.4 548.1 L405.4 544.3 L404.4 540.4 L403.4 536.7 L402.4 532.9 L401.4 529.3 L400.4 525.6 L399.4 522.1 L398.4 518.5 L397.4 515.1 L396.4 511.7 L395.4 508.3 L394.4 504.9 L393.4 501.5 L392.4 498.2 L391.4 494.9 L390.4 491.6 L389.4 488.3 L388.4 485.1 L387.4 481.9 L386.4 478.8 L385.4 475.7 L384.4 472.7 L383.4 469.8 L382.4 466.8 L381.4 463.9 L380.4 461.1 L379.4 458.3 L378.4 455.5 L377.4 452.8 L376.4 450.1 L375.4 447.4 L374.4 444.7 L373.4 442.1 L372.4 439.5 L371.4 437.0 L370.4 434.4 L369.4 431.9 L368.4 429.5 L367.4 427.0 L366.4 424.6 L365.4 422.2 L364.4 419.9 L363.4 417.6 L362.4 415.3 L361.4 413.1 L360.4 410.9 L359.4 408.7 L358.4 406.6 L357.4 404.5 L356.4 402.4 L355.4 400.4 L354.4 398.4 L353.4 396.5 L352.4 394.6 L351.4 392.7 L350.4 390.9 L349.4 389.1 L348.4 387.4 L347.4 385.8 L346.4 384.2 L345.4 382.6 L344.4 381.1 L343.4 379.7 L342.4 378.3 L341.4 377.0 L340.4 375.7 L339.4 374.5 L338.4 373.4 L337.4 372.3 L336.4 371.3 L335.4 370.4 L334.4 369.5 L333.4 368.7 L332.4 368.0 L331.4 367.3 L330.4 366.7 L329.4 366.2 L328.4 365.7 L327.4 365.3 L326.4 365.0 L325.4 364.7 L324.4 364.4 L323.4 364.2 L322.4 364.1 L321.4 364.0 L320.4 364.0 L319.4 364.0 L318.4 364.0 L317.4 364.1 L316.4 364.3 L315.4 364.5 L314.4 364.7 L313.4 365.0 L312.4 365.3 L311.4 365.7 L310.4 366.1 L309.4 366.6 L308.4 367.1 L307.4 367.7 L306.4 368.3 L305.4 369.0 L304.4 369.8 L303.4 370.6 L302.4 371.4 L301.4 372.2 L300.4 373.1 L299.4 373.9 L298.4 374.7 L297.4 375.5 L296.4 376.2 L295.4 376.8 L294.4 377.3 Z" fill="#cccccc" clip-path="url(#cd)"/>
<path d="M294.4 335.9 L295.4 336.7 L296.4 337.5 L297.4 338.2 L298.4 338.9 L299.4 339.6 L300.4 340.3 L301.4 341.0 L302.4 341.7 L303.4 342.3 L304.4 343.0 L305.4 343.6 L306.4 344.2 L307.4 344.8 L308.4 345.4 L309.4 345.9 L310.4 346.5 L311.4 347.1 L312.4 347.6 L313.4 348.2 L314.4 348.7 L315.4 349.3 L316.4 349.8 L317.4 350.4 L318.4 350.9 L319.4 351.4 L320.4 352.0 L321.4 352.6 L322.4 353.1 L323.4 353.7 L324.4 354.3 L325.4 355.0 L326.4 355.6 L327.4 356.3 L328.4 357.0 L329.4 357.8 L330.4 358.6 L331.4 359.4 L332.4 360.3 L333.4 361.2 L334.4 362.1 L335.4 363.1 L336.4 364.2 L337.4 365.3 L338.4 366.4 L339.4 367.6 L340.4 368.9 L341.4 370.2 L342.4 371.6 L343.4 372.9 L344.4 374.4 L345.4 375.8 L346.4 377.4 L347.4 378.9 L348.4 380.5 L349.4 382.1 L350.4 383.7 L351.4 385.4 L352.4 387.1 L353.4 388.8 L354.4 390.5 L355.4 392.3 L356.4 394.0 L357.4 395.8 L358.4 397.6 L359.4 399.5 L360.4 401.3 L361.4 403.1 L362.4 405.0 L363.4 406.8 L364.4 408.7 L365.4 410.6 L366.4 412.5 L367.4 414.4 L368.4 416.3 L369.4 418.2 L370.4 420.1 L371.4 422.0 L372.4 424.0 L373.4 425.9 L374.4 427.8 L375.4 429.8 L376.4 431.7 L377.4 433.6 L378.4 435.6 L379.4 437.5 L380.4 439.4 L381.4 441.4 L382.4 443.3 L383.4 445.3 L384.4 447.2 L385.4 449.2 L386.4 451.1 L387.4 453.1 L388.4 455.0 L389.4 457.0 L390.4 459.0 L391.4 461.0 L392.4 463.0 L393.4 465.0 L394.4 467.0 L395.4 469.1 L396.4 471.1 L397.4 473.2 L398.4 475.2 L399.4 477.3 L400.4 479.4 L401.4 481.5 L402.4 483.7 L403.4 485.8 L404.4 487.9 L405.4 490.1 L406.4 492.3 L407.4 494.4 L408.4 496.6 L409.4 498.8 L410.4 501.0 L411.4 503.1 L412.4 505.3 L413.4 507.5 L414.4 509.7 L415.4 511.9 L416.4 514.1 L417.4 516.3 L418.4 518.5 L419.4 520.7 L420.4 522.8 L421.4 525.0 L422.4 527.2 L423.4 529.3 L424.4 531.5 L425.4 533.7 L426.4 535.8 L427.4 538.0 L428.4 540.1 L429.4 542.3 L430.4 544.4 L431.4 546.5 L432.4 548.7 L433.4 550.8 L434.4 552.9 L435.4 554.2 L436.4 554.2 L437.4 554.2 L438.4 554.2 L439.4 554.2 L440.4 554.2 L441.4 554.2 L442.4 554.2 L443.4 554.2 L444.4 554.2 L445.4 554.2 L446.4 554.2 L447.4 554.2 L448.4 554.2 L449.4 554.2 L450.4 554.2 L451.4 554.2 L452.4 554.2 L453.4 554.2 L454.4 554.2 L455.4 554.2 L456.4 554.2 L457.4 554.2 L458.4 554.2 L459.4 554.2 L460.5 554.2" fill="none" stroke="#0c0c0c" stroke-width="1.2" stroke-linejoin="round" clip-path="url(#cd)"/>
<path d="M349.55 546.25 v5.7 M405.05 546.25 v5.7 M460.50 546.25 v5.7 M287.80 332.35 h-5.7 M287.80 382.55 h-5.7 M287.80 404.15 h-5.7 M287.80 454.05 h-5.7 M287.80 525.95 h-5.7" fill="none" stroke="#1a1a1a" stroke-width="1.1"/>
<text class="tk" x="349.55" y="565.55" text-anchor="middle">500</text>
<text class="tk" x="405.05" y="565.55" text-anchor="middle">1000</text>
<text class="tk" x="460.50" y="565.55" text-anchor="middle">1500</text>
<text class="tk" transform="translate(275.60 332.35) rotate(-90)" text-anchor="middle">5</text>
<text class="tk" transform="translate(275.60 382.55) rotate(-90)" text-anchor="middle">1</text>
<text class="tk" transform="translate(275.60 404.15) rotate(-90)" text-anchor="middle">0.5</text>
<text class="tk" transform="translate(275.60 454.05) rotate(-90)" text-anchor="middle">0.1</text>
<text class="tk" transform="translate(275.60 525.95) rotate(-90)" text-anchor="middle">0.01</text>
<text class="lab" x="377.43" y="586.20" text-anchor="middle">Adjusted Calcium Intake (mg/day)</text>
<text class="lab ylab" transform="translate(254.20 435.85) rotate(-90)" text-anchor="middle">Odds ratios for colorectal cancer</text>
<text class="ttl" x="384.70" y="318.35" text-anchor="middle">Distal colon cancer (WOMEN)</text>
<text class="let" transform="translate(243.20 319.20) scale(0.97 1.02)">d</text>
<clipPath id="ce"><rect x="43.65" y="623.55" width="179.65" height="221.70"/></clipPath>
<rect x="43.65" y="623.55" width="179.65" height="221.70" fill="none" stroke="#1a1a1a" stroke-width="1.35"/>
<path d="M50.1 622.2 L51.1 623.5 L52.1 624.9 L53.1 626.2 L54.1 627.5 L55.1 628.8 L56.1 630.2 L57.1 631.5 L58.1 632.7 L59.1 634.0 L60.1 635.2 L61.1 636.4 L62.1 637.6 L63.1 638.7 L64.1 639.7 L65.1 640.8 L66.1 641.7 L67.1 642.6 L68.1 643.4 L69.1 644.2 L70.1 644.9 L71.1 645.5 L72.1 646.0 L73.1 646.5 L74.1 646.9 L75.1 647.2 L76.1 647.6 L77.1 647.8 L78.1 648.1 L79.1 648.4 L80.1 648.7 L81.1 649.0 L82.1 649.3 L83.1 649.7 L84.1 650.1 L85.1 650.7 L86.1 651.3 L87.1 652.0 L88.1 652.9 L89.1 653.9 L90.1 654.9 L91.1 656.0 L92.1 657.2 L93.1 658.4 L94.1 659.6 L95.1 660.8 L96.1 662.1 L97.1 663.5 L98.1 665.0 L99.1 666.6 L100.1 668.4 L101.1 670.1 L102.1 672.0 L103.1 673.9 L104.1 675.9 L105.1 677.9 L106.1 679.8 L107.1 681.8 L108.1 683.8 L109.1 685.7 L110.1 687.6 L111.1 689.5 L112.1 691.3 L113.1 693.1 L114.1 694.8 L115.1 696.4 L116.1 697.9 L117.1 699.4 L118.1 700.7 L119.1 701.9 L120.1 703.1 L121.1 704.2 L122.1 705.2 L123.1 706.2 L124.1 707.2 L125.1 708.2 L126.1 709.1 L127.1 710.0 L128.1 710.9 L129.1 711.8 L130.1 712.6 L131.1 713.4 L132.1 714.2 L133.1 715.0 L134.1 715.7 L135.1 716.4 L136.1 717.1 L137.1 717.7 L138.1 718.4 L139.1 719.0 L140.1 719.5 L141.1 720.1 L142.1 720.6 L143.1 721.1 L144.1 721.6 L145.1 722.0 L146.1 722.5 L147.1 722.9 L148.1 723.3 L149.1 723.6 L150.1 724.0 L151.1 724.3 L152.1 724.6 L153.1 724.9 L154.1 725.1 L155.1 725.4 L156.1 725.6 L157.1 725.8 L158.1 725.9 L159.1 726.1 L160.1 726.2 L161.1 726.3 L162.1 726.4 L163.1 726.5 L164.1 726.5 L165.1 726.5 L166.1 726.5 L167.1 726.4 L168.1 726.4 L169.1 726.3 L170.1 726.1 L171.1 726.0 L172.1 725.8 L173.1 725.6 L174.1 725.3 L175.1 725.1 L176.1 724.7 L177.1 724.4 L178.1 724.0 L179.1 723.6 L180.1 723.2 L181.1 722.7 L182.1 722.2 L183.1 721.7 L184.1 721.1 L185.1 720.5 L186.1 719.8 L187.1 719.2 L188.1 718.4 L189.1 717.7 L190.1 716.9 L191.1 716.1 L192.1 715.2 L193.1 714.3 L194.1 713.4 L195.1 712.4 L196.1 711.4 L197.1 710.3 L198.1 709.2 L199.1 708.1 L200.1 706.9 L201.1 705.7 L202.1 704.4 L203.1 703.1 L204.1 701.8 L205.1 700.4 L206.1 698.9 L207.1 697.5 L208.1 695.9 L209.1 694.4 L210.1 692.8 L211.1 691.1 L212.1 689.4 L213.1 687.7 L214.1 685.9 L215.1 684.0 L216.2 682.1 L216.2 853.2 L215.1 853.2 L214.1 853.2 L213.1 853.2 L212.1 853.2 L211.1 853.2 L210.1 853.2 L209.1 853.2 L208.1 853.2 L207.1 853.2 L206.1 853.2 L205.1 853.2 L204.1 853.2 L203.1 853.2 L202.1 853.2 L201.1 853.2 L200.1 853.2 L199.1 853.2 L198.1 853.2 L197.1 853.2 L196.1 853.2 L195.1 853.2 L194.1 853.2 L193.1 853.2 L192.1 853.2 L191.1 853.2 L190.1 853.2 L189.1 853.2 L188.1 853.2 L187.1 853.2 L186.1 853.2 L185.1 853.2 L184.1 853.2 L183.1 853.2 L182.1 853.2 L181.1 853.2 L180.1 853.1 L179.1 850.3 L178.1 847.5 L177.1 844.7 L176.1 842.0 L175.1 839.3 L174.1 836.7 L173.1 834.1 L172.1 831.6 L171.1 829.1 L170.1 826.6 L169.1 824.2 L168.1 821.8 L167.1 819.4 L166.1 817.0 L165.1 814.7 L164.1 812.4 L163.1 810.2 L162.1 807.9 L161.1 805.7 L160.1 803.6 L159.1 801.4 L158.1 799.3 L157.1 797.2 L156.1 795.1 L155.1 793.1 L154.1 791.1 L153.1 789.1 L152.1 787.2 L151.1 785.3 L150.1 783.4 L149.1 781.5 L148.1 779.7 L147.1 777.8 L146.1 776.0 L145.1 774.1 L144.1 772.3 L143.1 770.5 L142.1 768.6 L141.1 766.8 L140.1 764.9 L139.1 763.0 L138.1 761.1 L137.1 759.1 L136.1 757.1 L135.1 755.1 L134.1 753.1 L133.1 751.0 L132.1 748.8 L131.1 746.7 L130.1 744.5 L129.1 742.2 L128.1 739.9 L127.1 737.6 L126.1 735.3 L125.1 732.9 L124.1 730.6 L123.1 728.2 L122.1 725.8 L121.1 723.4 L120.1 720.9 L119.1 718.4 L118.1 715.7 L117.1 713.0 L116.1 711.3 L115.1 710.8 L114.1 709.6 L113.1 707.8 L112.1 705.6 L111.1 703.3 L110.1 700.9 L109.1 698.6 L108.1 696.5 L107.1 694.6 L106.1 692.4 L105.1 689.6 L104.1 687.0 L103.1 685.6 L102.1 685.2 L101.1 682.9 L100.1 681.2 L99.1 680.1 L98.1 678.8 L97.1 676.9 L96.1 674.5 L95.1 672.1 L94.1 670.2 L93.1 668.8 L92.1 667.5 L91.1 666.4 L90.1 665.4 L89.1 664.5 L88.1 663.8 L87.1 663.2 L86.1 662.9 L85.1 662.7 L84.1 662.6 L83.1 662.7 L82.1 663.0 L81.1 663.3 L80.1 663.7 L79.1 664.3 L78.1 664.9 L77.1 665.6 L76.1 666.4 L75.1 667.4 L74.1 668.4 L73.1 669.5 L72.1 670.7 L71.1 672.1 L70.1 673.5 L69.1 675.0 L68.1 676.6 L67.1 678.2 L66.1 680.0 L65.1 681.8 L64.1 683.6 L63.1 685.5 L62.1 687.5 L61.1 689.5 L60.1 691.5 L59.1 693.6 L58.1 695.6 L57.1 697.7 L56.1 699.8 L55.1 701.9 L54.1 704.0 L53.1 706.1 L52.1 708.2 L51.1 710.3 L50.1 712.3 Z" fill="#cccccc" clip-path="url(#ce)"/>
<path d="M50.1 666.8 L51.1 666.5 L52.1 666.1 L53.1 665.8 L54.1 665.4 L55.1 665.0 L56.1 664.7 L57.1 664.3 L58.1 663.8 L59.1 663.4 L60.1 663.0 L61.1 662.6 L62.1 662.1 L63.1 661.7 L64.1 661.3 L65.1 660.8 L66.1 660.4 L67.1 660.0 L68.1 659.5 L69.1 659.1 L70.1 658.7 L71.1 658.3 L72.1 658.0 L73.1 657.6 L74.1 657.3 L75.1 657.0 L76.1 656.7 L77.1 656.4 L78.1 656.2 L79.1 656.1 L80.1 656.0 L81.1 655.9 L82.1 655.9 L83.1 656.0 L84.1 656.1 L85.1 656.4 L86.1 656.8 L87.1 657.3 L88.1 658.1 L89.1 658.9 L90.1 659.9 L91.1 661.1 L92.1 662.3 L93.1 663.6 L94.1 665.0 L95.1 666.5 L96.1 668.0 L97.1 669.6 L98.1 671.3 L99.1 673.0 L100.1 674.7 L101.1 676.5 L102.1 678.3 L103.1 680.2 L104.1 682.1 L105.1 684.0 L106.1 685.9 L107.1 687.9 L108.1 689.8 L109.1 691.8 L110.1 693.7 L111.1 695.6 L112.1 697.6 L113.1 699.5 L114.1 701.3 L115.1 703.2 L116.1 705.0 L117.1 706.8 L118.1 708.6 L119.1 710.3 L120.1 712.0 L121.1 713.7 L122.1 715.4 L123.1 717.1 L124.1 718.7 L125.1 720.3 L126.1 721.9 L127.1 723.4 L128.1 724.9 L129.1 726.4 L130.1 727.9 L131.1 729.4 L132.1 730.8 L133.1 732.2 L134.1 733.6 L135.1 734.9 L136.1 736.3 L137.1 737.6 L138.1 738.9 L139.1 740.2 L140.1 741.4 L141.1 742.7 L142.1 743.9 L143.1 745.1 L144.1 746.3 L145.1 747.5 L146.1 748.7 L147.1 749.8 L148.1 751.0 L149.1 752.2 L150.1 753.3 L151.1 754.4 L152.1 755.6 L153.1 756.7 L154.1 757.9 L155.1 759.0 L156.1 760.1 L157.1 761.3 L158.1 762.4 L159.1 763.5 L160.1 764.7 L161.1 765.8 L162.1 767.0 L163.1 768.1 L164.1 769.3 L165.1 770.4 L166.1 771.6 L167.1 772.7 L168.1 773.9 L169.1 775.1 L170.1 776.2 L171.1 777.4 L172.1 778.6 L173.1 779.7 L174.1 780.9 L175.1 782.1 L176.1 783.3 L177.1 784.5 L178.1 785.7 L179.1 786.9 L180.1 788.2 L181.1 789.4 L182.1 790.6 L183.1 791.8 L184.1 793.1 L185.1 794.3 L186.1 795.5 L187.1 796.8 L188.1 798.0 L189.1 799.3 L190.1 800.5 L191.1 801.8 L192.1 803.1 L193.1 804.3 L194.1 805.6 L195.1 806.8 L196.1 808.1 L197.1 809.4 L198.1 810.6 L199.1 811.9 L200.1 813.2 L201.1 814.4 L202.1 815.7 L203.1 817.0 L204.1 818.3 L205.1 819.5 L206.1 820.8 L207.1 822.1 L208.1 823.3 L209.1 824.6 L210.1 825.9 L211.1 827.2 L212.1 828.4 L213.1 829.7 L214.1 830.9 L215.1 832.2 L216.2 833.5" fill="none" stroke="#0c0c0c" stroke-width="1.2" stroke-linejoin="round" clip-path="url(#ce)"/>
<path d="M105.40 845.25 v5.7 M160.90 845.25 v5.7 M216.35 845.25 v5.7 M43.65 631.35 h-5.7 M43.65 681.55 h-5.7 M43.65 703.15 h-5.7 M43.65 753.05 h-5.7 M43.65 824.95 h-5.7" fill="none" stroke="#1a1a1a" stroke-width="1.1"/>
<text class="tk" x="105.40" y="864.55" text-anchor="middle">500</text>
<text class="tk" x="160.90" y="864.55" text-anchor="middle">1000</text>
<text class="tk" x="216.35" y="864.55" text-anchor="middle">1500</text>
<text class="tk" transform="translate(31.45 631.35) rotate(-90)" text-anchor="middle">5</text>
<text class="tk" transform="translate(31.45 681.55) rotate(-90)" text-anchor="middle">1</text>
<text class="tk" transform="translate(31.45 703.15) rotate(-90)" text-anchor="middle">0.5</text>
<text class="tk" transform="translate(31.45 753.05) rotate(-90)" text-anchor="middle">0.1</text>
<text class="tk" transform="translate(31.45 824.95) rotate(-90)" text-anchor="middle">0.01</text>
<text class="lab" x="133.28" y="885.20" text-anchor="middle">Adjusted Calcium Intake (mg/day)</text>
<text class="lab ylab" transform="translate(10.90 734.85) rotate(-90)" text-anchor="middle">Odds ratios for colorectal cancer</text>
<text class="ttl" x="140.20" y="617.35" text-anchor="middle">Rectal cancer (MEN)</text>
<text class="let" transform="translate(2.70 619.00) scale(0.97 1.02)">e</text>
<clipPath id="cf"><rect x="287.80" y="623.55" width="179.65" height="221.70"/></clipPath>
<rect x="287.80" y="623.55" width="179.65" height="221.70" fill="none" stroke="#1a1a1a" stroke-width="1.35"/>
<path d="M294.4 622.8 L295.4 624.2 L296.4 625.6 L297.4 627.0 L298.4 628.3 L299.4 629.6 L300.4 630.9 L301.4 632.2 L302.4 633.4 L303.4 634.6 L304.4 635.8 L305.4 637.0 L306.4 638.1 L307.4 639.2 L308.4 640.3 L309.4 641.3 L310.4 642.3 L311.4 643.3 L312.4 644.2 L313.4 645.1 L314.4 646.0 L315.4 646.8 L316.4 647.6 L317.4 648.3 L318.4 649.0 L319.4 649.7 L320.4 650.4 L321.4 651.0 L322.4 651.6 L323.4 652.2 L324.4 652.8 L325.4 653.4 L326.4 653.9 L327.4 654.4 L328.4 655.0 L329.4 655.5 L330.4 656.0 L331.4 656.6 L332.4 657.1 L333.4 657.7 L334.4 658.2 L335.4 658.8 L336.4 659.4 L337.4 660.0 L338.4 660.6 L339.4 661.2 L340.4 661.9 L341.4 662.5 L342.4 663.2 L343.4 663.9 L344.4 664.6 L345.4 665.3 L346.4 666.0 L347.4 666.8 L348.4 667.5 L349.4 668.2 L350.4 669.0 L351.4 669.7 L352.4 670.5 L353.4 671.3 L354.4 672.0 L355.4 672.8 L356.4 673.5 L357.4 674.3 L358.4 675.1 L359.4 675.8 L360.4 676.6 L361.4 677.3 L362.4 678.1 L363.4 678.8 L364.4 679.5 L365.4 680.3 L366.4 681.0 L367.4 681.7 L368.4 682.4 L369.4 683.0 L370.4 683.7 L371.4 684.4 L372.4 685.0 L373.4 685.6 L374.4 686.2 L375.4 686.8 L376.4 687.4 L377.4 687.9 L378.4 688.5 L379.4 689.0 L380.4 689.5 L381.4 689.9 L382.4 690.4 L383.4 690.8 L384.4 691.2 L385.4 691.6 L386.4 691.9 L387.4 692.3 L388.4 692.6 L389.4 692.9 L390.4 693.2 L391.4 693.5 L392.4 693.7 L393.4 693.9 L394.4 694.1 L395.4 694.3 L396.4 694.5 L397.4 694.6 L398.4 694.7 L399.4 694.8 L400.4 694.9 L401.4 695.0 L402.4 695.0 L403.4 695.0 L404.4 695.0 L405.4 695.0 L406.4 695.0 L407.4 694.9 L408.4 694.8 L409.4 694.7 L410.4 694.6 L411.4 694.4 L412.4 694.3 L413.4 694.1 L414.4 693.9 L415.4 693.7 L416.4 693.4 L417.4 693.2 L418.4 692.9 L419.4 692.6 L420.4 692.3 L421.4 691.9 L422.4 691.5 L423.4 691.2 L424.4 690.8 L425.4 690.3 L426.4 689.9 L427.4 689.5 L428.4 689.0 L429.4 688.5 L430.4 688.0 L431.4 687.5 L432.4 687.0 L433.4 686.4 L434.4 685.9 L435.4 685.3 L436.4 684.7 L437.4 684.2 L438.4 683.6 L439.4 682.9 L440.4 682.3 L441.4 681.7 L442.4 681.1 L443.4 680.4 L444.4 679.8 L445.4 679.1 L446.4 678.4 L447.4 677.7 L448.4 677.1 L449.4 676.4 L450.4 675.7 L451.4 675.0 L452.4 674.3 L453.4 673.6 L454.4 672.9 L455.4 672.2 L456.4 671.5 L457.4 670.8 L458.4 670.0 L459.4 669.3 L460.6 668.5 L460.6 853.2 L459.4 853.2 L458.4 853.2 L457.4 853.2 L456.4 853.2 L455.4 853.2 L454.4 853.2 L453.4 853.2 L452.4 853.2 L451.4 853.2 L450.4 853.2 L449.4 853.2 L448.4 853.2 L447.4 851.7 L446.4 849.2 L445.4 846.6 L444.4 844.1 L443.4 841.6 L442.4 839.1 L441.4 836.7 L440.4 834.2 L439.4 831.8 L438.4 829.4 L437.4 827.0 L436.4 824.6 L435.4 822.2 L434.4 819.8 L433.4 817.5 L432.4 815.1 L431.4 812.8 L430.4 810.5 L429.4 808.2 L428.4 806.0 L427.4 803.7 L426.4 801.5 L425.4 799.2 L424.4 797.0 L423.4 794.8 L422.4 792.7 L421.4 790.5 L420.4 788.4 L419.4 786.2 L418.4 784.1 L417.4 782.0 L416.4 780.0 L415.4 777.9 L414.4 775.9 L413.4 773.8 L412.4 771.8 L411.4 769.8 L410.4 767.8 L409.4 765.9 L408.4 763.9 L407.4 762.0 L406.4 760.1 L405.4 758.2 L404.4 756.4 L403.4 754.5 L402.4 752.7 L401.4 750.8 L400.4 749.0 L399.4 747.3 L398.4 745.5 L397.4 743.7 L396.4 742.0 L395.4 740.3 L394.4 738.6 L393.4 736.9 L392.4 735.3 L391.4 733.6 L390.4 732.0 L389.4 730.4 L388.4 728.8 L387.4 727.2 L386.4 725.7 L385.4 724.2 L384.4 722.7 L383.4 721.2 L382.4 719.7 L381.4 718.2 L380.4 716.8 L379.4 715.4 L378.4 714.0 L377.4 712.6 L376.4 711.2 L375.4 709.9 L374.4 708.6 L373.4 707.3 L372.4 706.0 L371.4 704.7 L370.4 703.5 L369.4 702.2 L368.4 701.0 L367.4 699.9 L366.4 698.7 L365.4 697.5 L364.4 696.4 L363.4 695.3 L362.4 694.2 L361.4 693.2 L360.4 692.1 L359.4 691.1 L358.4 690.1 L357.4 689.1 L356.4 688.1 L355.4 687.2 L354.4 686.3 L353.4 685.4 L352.4 684.5 L351.4 683.7 L350.4 682.9 L349.4 682.1 L348.4 681.3 L347.4 680.6 L346.4 679.9 L345.4 679.3 L344.4 678.6 L343.4 678.1 L342.4 677.5 L341.4 677.0 L340.4 676.6 L339.4 676.2 L338.4 675.8 L337.4 675.5 L336.4 675.2 L335.4 675.0 L334.4 674.8 L333.4 674.6 L332.4 674.6 L331.4 674.5 L330.4 674.5 L329.4 674.6 L328.4 674.7 L327.4 674.8 L326.4 675.0 L325.4 675.3 L324.4 675.5 L323.4 675.9 L322.4 676.3 L321.4 676.7 L320.4 677.1 L319.4 677.6 L318.4 678.2 L317.4 678.8 L316.4 679.4 L315.4 680.1 L314.4 680.9 L313.4 681.6 L312.4 682.4 L311.4 683.3 L310.4 684.2 L309.4 685.1 L308.4 686.1 L307.4 687.1 L306.4 688.2 L305.4 689.3 L304.4 690.4 L303.4 691.6 L302.4 692.8 L301.4 694.0 L300.4 695.3 L299.4 696.6 L298.4 698.0 L297.4 699.4 L296.4 700.8 L295.4 702.3 L294.4 703.8 Z" fill="#cccccc" clip-path="url(#cf)"/>
<path d="M294.4 663.0 L295.4 663.1 L296.4 663.2 L297.4 663.2 L298.4 663.3 L299.4 663.3 L300.4 663.3 L301.4 663.4 L302.4 663.4 L303.4 663.4 L304.4 663.4 L305.4 663.4 L306.4 663.4 L307.4 663.4 L308.4 663.4 L309.4 663.4 L310.4 663.4 L311.4 663.4 L312.4 663.4 L313.4 663.4 L314.4 663.4 L315.4 663.5 L316.4 663.5 L317.4 663.6 L318.4 663.6 L319.4 663.7 L320.4 663.8 L321.4 663.9 L322.4 664.0 L323.4 664.1 L324.4 664.2 L325.4 664.4 L326.4 664.5 L327.4 664.7 L328.4 665.0 L329.4 665.2 L330.4 665.4 L331.4 665.7 L332.4 666.0 L333.4 666.4 L334.4 666.7 L335.4 667.1 L336.4 667.5 L337.4 668.0 L338.4 668.4 L339.4 668.9 L340.4 669.4 L341.4 670.0 L342.4 670.6 L343.4 671.2 L344.4 671.8 L345.4 672.4 L346.4 673.1 L347.4 673.8 L348.4 674.5 L349.4 675.2 L350.4 676.0 L351.4 676.8 L352.4 677.5 L353.4 678.3 L354.4 679.2 L355.4 680.0 L356.4 680.8 L357.4 681.7 L358.4 682.6 L359.4 683.4 L360.4 684.3 L361.4 685.2 L362.4 686.2 L363.4 687.1 L364.4 688.0 L365.4 688.9 L366.4 689.9 L367.4 690.8 L368.4 691.8 L369.4 692.7 L370.4 693.7 L371.4 694.7 L372.4 695.6 L373.4 696.6 L374.4 697.6 L375.4 698.5 L376.4 699.5 L377.4 700.4 L378.4 701.4 L379.4 702.3 L380.4 703.3 L381.4 704.2 L382.4 705.2 L383.4 706.1 L384.4 707.1 L385.4 708.0 L386.4 708.9 L387.4 709.8 L388.4 710.8 L389.4 711.7 L390.4 712.6 L391.4 713.5 L392.4 714.4 L393.4 715.4 L394.4 716.3 L395.4 717.2 L396.4 718.1 L397.4 719.0 L398.4 719.9 L399.4 720.8 L400.4 721.7 L401.4 722.6 L402.4 723.5 L403.4 724.4 L404.4 725.3 L405.4 726.2 L406.4 727.1 L407.4 728.0 L408.4 728.9 L409.4 729.8 L410.4 730.7 L411.4 731.6 L412.4 732.5 L413.4 733.4 L414.4 734.3 L415.4 735.2 L416.4 736.1 L417.4 737.0 L418.4 737.9 L419.4 738.8 L420.4 739.7 L421.4 740.6 L422.4 741.5 L423.4 742.4 L424.4 743.3 L425.4 744.2 L426.4 745.1 L427.4 746.0 L428.4 746.9 L429.4 747.8 L430.4 748.8 L431.4 749.7 L432.4 750.6 L433.4 751.5 L434.4 752.4 L435.4 753.4 L436.4 754.3 L437.4 755.2 L438.4 756.2 L439.4 757.1 L440.4 758.0 L441.4 759.0 L442.4 759.9 L443.4 760.9 L444.4 761.8 L445.4 762.8 L446.4 763.7 L447.4 764.7 L448.4 765.7 L449.4 766.6 L450.4 767.6 L451.4 768.6 L452.4 769.6 L453.4 770.5 L454.4 771.5 L455.4 772.5 L456.4 773.5 L457.4 774.5 L458.4 775.5 L459.4 776.5 L460.6 777.8" fill="none" stroke="#0c0c0c" stroke-width="1.2" stroke-linejoin="round" clip-path="url(#cf)"/>
<path d="M349.55 845.25 v5.7 M405.05 845.25 v5.7 M460.50 845.25 v5.7 M287.80 631.35 h-5.7 M287.80 681.55 h-5.7 M287.80 703.15 h-5.7 M287.80 753.05 h-5.7 M287.80 824.95 h-5.7" fill="none" stroke="#1a1a1a" stroke-width="1.1"/>
<text class="tk" x="349.55" y="864.55" text-anchor="middle">500</text>
<text class="tk" x="405.05" y="864.55" text-anchor="middle">1000</text>
<text class="tk" x="460.50" y="864.55" text-anchor="middle">1500</text>
<text class="tk" transform="translate(275.60 631.35) rotate(-90)" text-anchor="middle">5</text>
<text class="tk" transform="translate(275.60 681.55) rotate(-90)" text-anchor="middle">1</text>
<text class="tk" transform="translate(275.60 703.15) rotate(-90)" text-anchor="middle">0.5</text>
<text class="tk" transform="translate(275.60 753.05) rotate(-90)" text-anchor="middle">0.1</text>
<text class="tk" transform="translate(275.60 824.95) rotate(-90)" text-anchor="middle">0.01</text>
<text class="lab" x="377.43" y="885.20" text-anchor="middle">Adjusted Calcium Intake (mg/day)</text>
<text class="lab ylab" transform="translate(254.20 734.85) rotate(-90)" text-anchor="middle">Odds ratios for colorectal cancer</text>
<text class="ttl" x="383.90" y="617.35" text-anchor="middle">Rectal cancer (WOMEN)</text>
<text class="let" transform="translate(245.90 618.90) scale(0.97 1.02)">f</text>
</svg>
</body></html>
